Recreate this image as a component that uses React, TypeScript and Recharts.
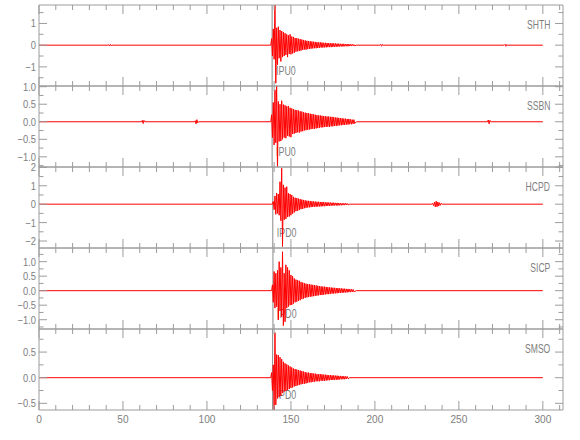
import React from "react";
import { Line, LineChart, ReferenceLine, XAxis, YAxis } from "recharts";

// sample interval of the typed coda amplitudes (s)
const DT = 0.5;
const T_DOMAIN: [number, number] = [0, 312];
const TIME_TICKS = [0, 10, 20, 30, 40, 50, 60, 70, 80, 90, 100, 110, 120, 130, 140, 150, 160, 170, 180, 190, 200, 210, 220, 230, 240, 250, 260, 270, 280, 290, 300, 310];
const TIME_LABELS = [0, 50, 100, 150, 200, 250, 300];

const STATIONS = ["SHTH", "SSBN", "HCPD", "SICP", "SMSO"];
const PHASES = ["IPU0", "IPU0", "IPD0", "IPD0", "IPD0"];
const PICKS = [138.8, 138.8, 139.2, 139.3, 139.1];
const ONSETS = [138.5, 138.5, 139.5, 139.0, 138.5];

const Y_DOMAINS: [number, number][] = [[-1.88, 1.85], [-1.29, 1.02], [-2.38, 2.02], [-1.32, 1.47], [-0.63, 0.95]];
const Y_MAJOR = [[-1, 0, 1], [-1, -0.5, 0, 0.5, 1], [-2, -1, 0, 1, 2], [-1, -0.5, 0, 0.5, 1], [-0.5, 0, 0.5]];
const Y_MINOR = [[-1.5, -0.5, 0.5, 1.5], [-1.25, -0.75, -0.25, 0.25, 0.75], [-1.5, -0.5, 0.5, 1.5], [-1.25, -0.75, -0.25, 0.25, 0.75, 1.25], [-0.25, 0.25, 0.75]];
const Y_DECIMALS = [0, 1, 0, 1, 1];

// signed amplitudes every DT seconds from the onset
const SHTH_CODA = [
  0.3, -0.5, 0.75, -0.65, 1.95, -1.75, 0.8, -0.9, 0.85, -0.6, 0.7, -0.75, 0.65, -0.55,
  0.6, -0.5, 0.55, -0.45, 0.5, -0.55, 0.45, -0.4, 0.5, -0.42, 0.4, -0.38,
  0.38, -0.35, 0.33, -0.3, 0.32, -0.28, 0.3, -0.27,
  0.28, -0.25, 0.26, -0.22, 0.24, -0.2, 0.22, -0.21, 0.2, -0.18, 0.19, -0.17, 0.18, -0.16, 0.17, -0.15, 0.16, -0.14, 0.15, -0.14,
  0.14, -0.13, 0.13, -0.12, 0.13, -0.11, 0.12, -0.11, 0.11, -0.1, 0.11, -0.1, 0.1, -0.09, 0.1, -0.09, 0.09, -0.09, 0.09, -0.08,
  0.08, -0.08, 0.08, -0.07, 0.07, -0.07, 0.07, -0.06, 0.06, -0.06, 0.06, -0.06, 0.06, -0.05, 0.05, -0.05, 0.05, -0.05, 0.05, -0.04,
  0.04, -0.04, 0.04, -0.03, 0.03, -0.03,
];
const SSBN_CODA = [
  0.2, -0.45, 0.55, -0.66, 0.91, -0.6, 1.1, -1.35, 0.58, -0.56, 0.5, -0.55, 0.6, -0.5,
  0.49, -0.45, 0.47, -0.47, 0.44, -0.4, 0.45, -0.42, 0.4, -0.44,
  0.38, -0.35, 0.36, -0.34, 0.34, -0.32, 0.33, -0.3, 0.32, -0.31, 0.3, -0.28, 0.29, -0.27,
  0.27, -0.25, 0.26, -0.24, 0.25, -0.23, 0.24, -0.22, 0.23, -0.21, 0.22, -0.2, 0.21, -0.2, 0.2, -0.19,
  0.19, -0.18, 0.18, -0.17, 0.18, -0.16, 0.17, -0.16, 0.16, -0.15, 0.16, -0.15, 0.15, -0.14, 0.15, -0.14, 0.14, -0.13, 0.14, -0.13,
  0.13, -0.12, 0.12, -0.12, 0.12, -0.11, 0.11, -0.1, 0.1, -0.1, 0.1, -0.09, 0.09, -0.09, 0.09, -0.08, 0.08, -0.08, 0.08, -0.07,
  0.07, -0.07, 0.06, -0.06, 0.06, -0.05,
];
const HCPD_CODA = [
  0.15, -0.3, 0.45, -0.55, 0.6, -0.5, 0.55, -0.6, 1.22, -0.9, 1.95, -2.3,
  1.05, -0.85, 0.9, -0.8, 0.95, -0.7, 0.6, -0.67, 0.55, -0.6, 0.5, -0.52,
  0.4, -0.45, 0.35, -0.38, 0.33, -0.36, 0.3, -0.32,
  0.28, -0.27, 0.25, -0.26, 0.23, -0.22, 0.21, -0.2, 0.19, -0.18,
  0.18, -0.17, 0.17, -0.16, 0.16, -0.15, 0.15, -0.14, 0.14, -0.14, 0.13, -0.13, 0.13, -0.12, 0.12, -0.12, 0.12, -0.11, 0.11, -0.11,
  0.1, -0.1, 0.1, -0.09, 0.09, -0.09, 0.09, -0.08, 0.08, -0.08, 0.08, -0.07, 0.07, -0.07, 0.07, -0.07,
  0.06, -0.06, 0.06, -0.06, 0.05, -0.05, 0.05, -0.05, 0.05, -0.04, 0.04, -0.04,
];
const SICP_CODA = [
  0.2, -0.4, 0.66, -0.6, 0.6, -0.55, 0.7, -1.01, 1.0, -0.7, 0.8, -0.9,
  1.34, -1.2, 0.6, -1.07, 0.89, -0.6, 0.8, -0.55, 0.7, -0.5, 0.54, -0.49, 0.5, -0.45,
  0.42, -0.4, 0.38, -0.38, 0.36, -0.35, 0.34, -0.33,
  0.3, -0.29, 0.28, -0.27, 0.26, -0.25, 0.24, -0.23,
  0.23, -0.22, 0.22, -0.21, 0.21, -0.2, 0.2, -0.19, 0.19, -0.18, 0.18, -0.17, 0.17, -0.16, 0.16, -0.15, 0.15, -0.15, 0.14, -0.14,
  0.14, -0.13, 0.13, -0.12, 0.12, -0.12, 0.11, -0.11, 0.11, -0.1, 0.1, -0.1, 0.1, -0.09, 0.09, -0.09,
  0.09, -0.08, 0.08, -0.08, 0.08, -0.07, 0.07, -0.07, 0.07, -0.06, 0.06, -0.06, 0.06, -0.05, 0.05, -0.05, 0.05, -0.04, 0.04, -0.04,
];
const SMSO_CODA = [
  0.1, -0.25, 0.25, -0.7, 0.88, -0.53, 0.45, -0.4,
  0.44, -0.38, 0.4, -0.35, 0.36, -0.3, 0.31, -0.27, 0.28, -0.26, 0.26, -0.24,
  0.24, -0.22, 0.22, -0.2, 0.2, -0.19, 0.18, -0.17,
  0.17, -0.16, 0.16, -0.15, 0.15, -0.14, 0.14, -0.13, 0.13, -0.12, 0.12, -0.12, 0.11, -0.11, 0.1, -0.1,
  0.1, -0.09, 0.09, -0.09, 0.09, -0.08, 0.08, -0.08, 0.08, -0.07, 0.07, -0.07, 0.07, -0.07, 0.07, -0.06, 0.065, -0.06, 0.06, -0.06,
  0.06, -0.055, 0.055, -0.05, 0.05, -0.05, 0.05, -0.045, 0.045, -0.045, 0.045, -0.04, 0.04, -0.04, 0.04, -0.04,
  0.035, -0.035, 0.035, -0.03, 0.03, -0.03, 0.03, -0.03, 0.025, -0.025, 0.025, -0.02,
];

// [time, amplitude] of the quiet parts and small bursts
const SHTH_NOISE = [[0, 0], [41, 0], [41.5, 0.02], [42, -0.04], [42.5, 0.04], [43, -0.02], [43.5, 0], [138, 0], [189, 0], [203, 0], [203.5, 0.04], [204, -0.05], [204.5, 0.03], [205, 0], [277, 0], [277.5, 0.04], [278, -0.05], [278.5, 0.03], [279, 0], [300, 0]];
const SSBN_NOISE = [[0, 0], [61, 0], [61.5, 0.04], [62, -0.05], [62.5, 0.04], [63, 0], [92.5, 0], [93, 0.03], [93.5, -0.06], [94, 0.06], [94.5, -0.03], [95, 0], [138, 0], [189, 0], [267, 0], [267.5, 0.05], [268, -0.06], [268.5, 0.04], [269, 0], [300, 0]];
const HCPD_NOISE = [[0, 0], [139, 0], [185, 0], [234, 0], [234.5, 0.04], [235, -0.08], [235.5, 0.12], [236, -0.15], [236.5, 0.16], [237, -0.14], [237.5, 0.12], [238, -0.1], [238.5, 0.08], [239, -0.06], [239.5, 0.04], [240, 0], [300, 0]];
const SICP_NOISE = [[0, 0], [138.5, 0], [189, 0], [300, 0]];
const SMSO_NOISE = [[0, 0], [138, 0], [185, 0], [300, 0]];

const CODAS = [SHTH_CODA, SSBN_CODA, HCPD_CODA, SICP_CODA, SMSO_CODA];
const NOISES = [SHTH_NOISE, SSBN_NOISE, HCPD_NOISE, SICP_NOISE, SMSO_NOISE];

const AXIS = "#9c9c9c";
const TEXT = "#808080";
const FONT = "'Liberation Sans', Arial, sans-serif";
const PANEL_H = 81;

function fmt(v: number, d: number) {
  return v.toFixed(d).replace("-", "\u2212");
}

function buildRows(i: number) {
  const rows = NOISES[i].map(([t, v]) => ({ t, v }));
  CODAS[i].forEach((v, k) => rows.push({ t: ONSETS[i] + k * DT, v }));
  return rows.sort((a, b) => a.t - b.t);
}

// narrow text, like the plotting package's stroke font
function NText({ x, y, sx, size, anchor, children }: any) {
  return (
    <g transform={`translate(${x},${y}) scale(${sx},1)`}>
      <text x={0} y={0} textAnchor={anchor} fontSize={size} fill={TEXT} fontFamily={FONT}>
        {children}
      </text>
    </g>
  );
}

function Panel({ i, last }: { i: number; last: boolean }) {
  const majors = Y_MAJOR[i];
  const yTicks = [...majors, ...Y_MINOR[i]].sort((a, b) => a - b);
  const data = buildRows(i);
  const extra = last ? 30 : 0;

  const leftTick = (p: any) => {
    const v = p.payload.value;
    const major = majors.includes(v);
    return (
      <g>
        <line x1={p.x + 3} x2={p.x + 3 + (major ? 8 : 4.5)} y1={p.y} y2={p.y} stroke={AXIS} />
        {major && (
          <NText x={p.x} y={p.y + 4} sx={0.85} size={11} anchor="end">
            {fmt(v, Y_DECIMALS[i])}
          </NText>
        )}
      </g>
    );
  };
  const rightTick = (p: any) => {
    const major = majors.includes(p.payload.value);
    return <line x1={p.x - 3} x2={p.x - 3 - (major ? 8 : 4.5)} y1={p.y} y2={p.y} stroke={AXIS} />;
  };
  const topTick = (p: any) => {
    const major = TIME_LABELS.includes(p.payload.value);
    return <line x1={p.x} x2={p.x} y1={p.y + 3} y2={p.y + 3 + (major ? 9 : 5)} stroke={AXIS} />;
  };
  const bottomTick = (p: any) => {
    const v = p.payload.value;
    const major = TIME_LABELS.includes(v);
    return (
      <g>
        <line x1={p.x} x2={p.x} y1={p.y - 3} y2={p.y - 3 - (major ? 9 : 5)} stroke={AXIS} />
        {last && major && (
          <NText x={p.x} y={p.y + 10} sx={0.92} size={11} anchor="middle">
            {v}
          </NText>
        )}
      </g>
    );
  };

  return (
    <div style={{ position: "relative", width: 580, height: PANEL_H }}>
      <div style={{ position: "absolute", left: 0, top: -1 }}>
        <LineChart width={580} height={PANEL_H + 2 + extra} data={data} margin={{ top: 0, right: 0, bottom: extra, left: 0 }}>
          <XAxis xAxisId="b" dataKey="t" type="number" domain={T_DOMAIN} allowDataOverflow ticks={TIME_TICKS} interval={0} height={1} tickSize={0} tickMargin={3} tick={bottomTick} tickLine={false} axisLine={{ stroke: AXIS }} />
          <XAxis xAxisId="t" orientation="top" dataKey="t" type="number" domain={T_DOMAIN} allowDataOverflow ticks={TIME_TICKS} interval={0} height={1} tickSize={0} tickMargin={3} tick={topTick} tickLine={false} axisLine={{ stroke: AXIS }} />
          <YAxis yAxisId="l" type="number" domain={Y_DOMAINS[i]} allowDataOverflow ticks={yTicks} interval={0} width={39} tickSize={0} tickMargin={3} tick={leftTick} tickLine={false} axisLine={{ stroke: AXIS }} />
          <YAxis yAxisId="r" orientation="right" type="number" domain={Y_DOMAINS[i]} allowDataOverflow ticks={yTicks} interval={0} width={17} tickSize={0} tickMargin={3} tick={rightTick} tickLine={false} axisLine={{ stroke: AXIS }} />
          <ReferenceLine
            xAxisId="b"
            yAxisId="l"
            x={PICKS[i]}
            stroke="#8a8a8a"
            label={(p: any) => (
              <NText x={p.viewBox.x + 4} y={p.viewBox.y + p.viewBox.height - 11} sx={0.68} size={13} anchor="start">
                {PHASES[i]}
              </NText>
            )}
          />
          <Line xAxisId="b" yAxisId="l" type="linear" dataKey="v" stroke="#ff0000" strokeWidth={1} dot={false} isAnimationActive={false} />
        </LineChart>
      </div>
      <div
        style={{
          position: "absolute",
          right: 30,
          top: 12,
          fontSize: 13,
          lineHeight: "15px",
          color: TEXT,
          fontFamily: FONT,
          transform: "scaleX(0.66)",
          transformOrigin: "right center",
        }}
      >
        {STATIONS[i]}
      </div>
    </div>
  );
}

export default function App() {
  return (
    <div style={{ position: "absolute", left: 0, top: 0, width: 580, height: 440, background: "#fff", paddingTop: 5, boxSizing: "border-box" }}>
      <style>{"svg.recharts-surface { overflow: visible; }"}</style>
      {STATIONS.map((s, i) => (
        <Panel key={s} i={i} last={i === STATIONS.length - 1} />
      ))}
    </div>
  );
}
